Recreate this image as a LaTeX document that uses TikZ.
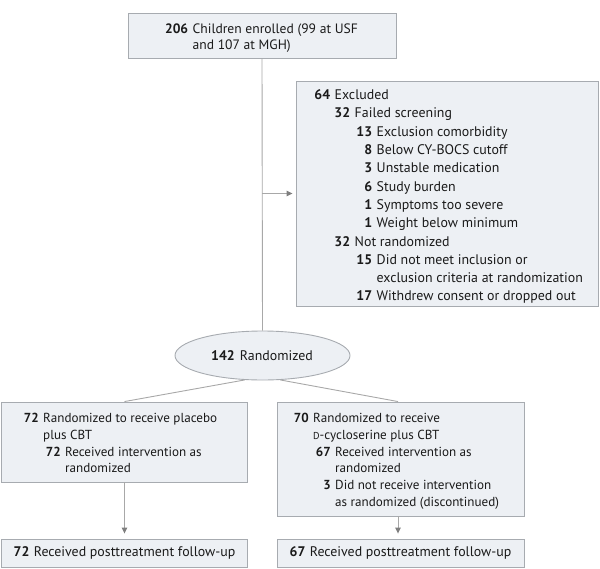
\documentclass[tikz,border=0pt]{standalone}
\usepackage{fontspec}
\setmainfont{PT Sans}
\usetikzlibrary{arrows.meta,shapes.geometric}
\definecolor{boxfill}{HTML}{EDF0F4}
\definecolor{boxline}{HTML}{A7ABB0}
\definecolor{connc}{HTML}{A8A8A8}
\definecolor{tipc}{HTML}{7F7F7F}
\definecolor{txt}{HTML}{1A1A1A}
\newcommand\entry[3]{\hspace*{#1}\makebox[0pt][r]{\bfseries #2}\hspace{4.5pt}#3}
\newcommand\cont[2]{\hspace*{#1}\hspace{4.5pt}#2}
\newcommand\smD{{\fontsize{10}{10}\selectfont D}}
\begin{document}
\begin{tikzpicture}[x=1pt,y=-1pt,
 box/.style={draw=boxline,fill=boxfill,line width=0.9pt,inner sep=0,rectangle},
 conn/.style={draw=connc,line width=0.9pt},
 arr/.style={conn,-{Triangle[width=5.5pt,length=6pt,color=tipc]}},
 lbl/.style={inner sep=0,anchor=north west,align=left,text=txt,font=\fontsize{13.9}{18.3}\selectfont},
 lowlbl/.style={lbl,font=\fontsize{13.1}{16.8}\selectfont},
 one/.style={inner sep=0,text=txt,font=\fontsize{13.9}{15}\selectfont}]
\useasboundingbox (0,0) rectangle (600,568);
% boxes
\node[box,minimum width=268pt,minimum height=45pt] (top) at (262,35.5) {};
\node[box,minimum width=302pt,minimum height=225pt] (excl) at (447,193.5) {};
\node[box,ellipse,minimum width=175pt,minimum height=49pt] (rand) at (262.5,355.5) {};
\node[box,minimum width=246pt,minimum height=80pt] (left) at (124.5,442) {};
\node[box,minimum width=247pt,minimum height=114pt] (right) at (400.5,459) {};
\node[box,minimum width=246pt,minimum height=28pt] (lfu) at (124.5,553) {};
\node[box,minimum width=247pt,minimum height=28pt] (rfu) at (400.5,553) {};
% texts
\node[lbl,font=\fontsize{13.6}{15.8}\selectfont] (toptxt) at (128,24) {\entry{60pt}{206}{Children enrolled (99 at USF}\\\cont{60pt}{and 107 at MGH)}};
\node[lbl] (excltxt) at (296,89.5) {%
\entry{34pt}{64}{Excluded}\\
\entry{54pt}{32}{Failed screening}\\
\entry{76pt}{13}{Exclusion comorbidity}\\
\entry{76pt}{8}{Below CY-BOCS cutoff}\\
\entry{76pt}{3}{Unstable medication}\\
\entry{76pt}{6}{Study burden}\\
\entry{76pt}{1}{Symptoms too severe}\\
\entry{76pt}{1}{Weight below minimum}\\
\entry{54pt}{32}{Not randomized}\\
\entry{76pt}{15}{Did not meet inclusion or}\\
\cont{76pt}{exclusion criteria at randomization}\\
\entry{76pt}{17}{Withdrew consent or dropped out}};
\node[one] (randtxt) at (262,355.5) {\textbf{142}\hspace{5pt}Randomized};
\node[lowlbl] (lefttxt) at (1.5,413) {%
\entry{37pt}{72}{Randomized to receive placebo}\\
\cont{37pt}{plus CBT}\\
\entry{59pt}{72}{Received intervention as}\\
\cont{59pt}{randomized}};
\node[lowlbl] (righttxt) at (277,413) {%
\entry{31.5pt}{70}{Randomized to receive}\\
\cont{31.5pt}{\smD-cycloserine plus CBT}\\
\entry{53.5pt}{67}{Received intervention as}\\
\cont{53.5pt}{randomized}\\
\entry{53.5pt}{3}{Did not receive intervention}\\
\cont{53.5pt}{as randomized (discontinued)}};
\node[one] (lfutxt) at (lfu) {\textbf{72}\hspace{4.5pt}Received posttreatment follow-up};
\node[one] (rfutxt) at (rfu) {\textbf{67}\hspace{4.5pt}Received posttreatment follow-up};
% connectors
\coordinate (branch) at (top.south |- excl.west);
\draw[conn] (top.south) -- (rand.north);
\draw[arr] (branch) -- ([xshift=-3pt]excl.west);
\draw[conn] (rand.-126) -- (left.north);
\draw[conn] (rand.-54) -- (right.north -| 398,0);
\draw[arr] (left.south) -- ([yshift=5pt]lfu.north);
\draw[arr] (right.south -| 398,0) -- ([yshift=5pt]rfu.north -| 398,0);
\end{tikzpicture}
\end{document}
